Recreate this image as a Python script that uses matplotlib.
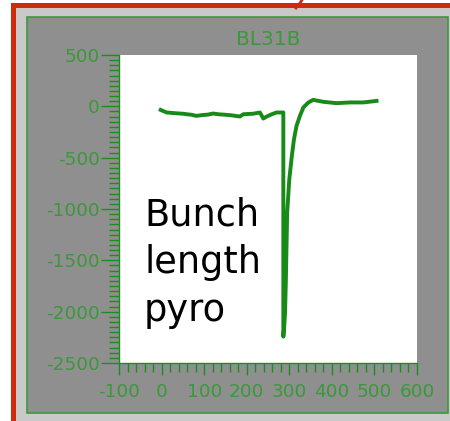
import matplotlib
matplotlib.use("Agg")
import matplotlib.pyplot as plt
from matplotlib.patches import Rectangle
from matplotlib.ticker import MultipleLocator, FuncFormatter

# ---- data ----
x_vals = [-2, 5, 12, 35, 50, 59, 70, 82, 94, 110, 121, 135, 150, 165, 184, 192, 215, 231, 239, 247, 260, 270, 286,
          286, 288, 290, 292, 295, 300, 306, 311, 317, 325, 333, 345, 356, 380, 411, 443, 474, 505]
y_vals = [-35, -48, -60, -68, -72, -77, -82, -93, -86, -80, -70, -78, -82, -88, -99, -77, -72, -60, -119, -99, -75, -60, -60,
          -2243, -2150, -2015, -1690, -1037, -712, -484, -321, -190, -93, -11, 38, 63, 44, 31, 38, 38, 53]
title = "BL31B"
annotation_lines = ["Bunch", "length", "pyro"]
xlim = (-100, 600)
ylim = (-2500, 500)

W, H = 450, 421
fig = plt.figure(figsize=(W / 100, H / 100), dpi=100)
fig.patch.set_facecolor("white")

def fr(x0, y0, x1, y1):
    # pixel box (top-left origin) -> figure fraction rect
    return (x0 / W, 1 - y1 / H, (x1 - x0) / W, (y1 - y0) / H)

red = "#cf2a0c"
lgray = "#c9c9c9"
dgray = "#8f8f8f"
green = "#1f8c1f"
lab_green = "#3b983b"

for (rect, fc, ec, lw) in [
    (fr(11, 3, 450, 421), red, "none", 0),
    (fr(16, 8, 450, 421), lgray, "none", 0),
    (fr(27, 17, 448, 413), dgray, "#3c9a3c", 1.2),
]:
    fig.add_artist(Rectangle(rect[:2], rect[2], rect[3], transform=fig.transFigure,
                             facecolor=fc, edgecolor=ec, linewidth=lw, zorder=0))
# small red curve at top
fig.add_artist(plt.Line2D([296 / W, 300 / W, 302 / W], [1 - 8 / H, 1 - 3 / H, 1.0],
                          transform=fig.transFigure, color=red, lw=2, zorder=0))

ax = fig.add_axes([119 / W, 1 - 363 / H, (417 - 119) / W, (363 - 55) / H])
ax.set_facecolor("white")
ax.plot(x_vals, y_vals, color="#178a17", lw=2.8, solid_joinstyle="round")
ax.set_xlim(*xlim)
ax.set_ylim(*ylim)

for s in ["top", "right"]:
    ax.spines[s].set_visible(False)
for s in ["left", "bottom"]:
    ax.spines[s].set_color(green)
    ax.spines[s].set_linewidth(1.0)

fmt = FuncFormatter(lambda v, p: ("-%d" % abs(v)) if v < 0 else "%d" % v)
ax.xaxis.set_major_locator(MultipleLocator(100))
ax.xaxis.set_minor_locator(MultipleLocator(20))
ax.yaxis.set_major_locator(MultipleLocator(500))
ax.yaxis.set_minor_locator(MultipleLocator(50))
ax.xaxis.set_major_formatter(fmt)
ax.yaxis.set_major_formatter(fmt)

ax.tick_params(axis="y", which="major", length=13, width=1, color=green, pad=1,
               labelsize=13.3, labelcolor=lab_green)
ax.tick_params(axis="y", which="minor", length=7, width=1, color=green)
ax.tick_params(axis="x", which="major", length=8.5, width=1, color=green, pad=6,
               labelsize=13.3, labelcolor=lab_green)
ax.tick_params(axis="x", which="minor", length=6.5, width=1, color=green)
for lab in ax.get_xticklabels() + ax.get_yticklabels():
    lab.set_fontfamily("DejaVu Sans")

ax.set_title(title, color=lab_green, fontsize=14.5, family="DejaVu Sans", pad=7)

baselines = [225, 273, 321]
for txt, b in zip(annotation_lines, baselines):
    fig.text(144 / W, 1 - b / H, txt, fontsize=26.5, family="DejaVu Sans",
             color="black", va="baseline", ha="left")

fig.savefig("out.png", dpi=100, facecolor=fig.get_facecolor())
